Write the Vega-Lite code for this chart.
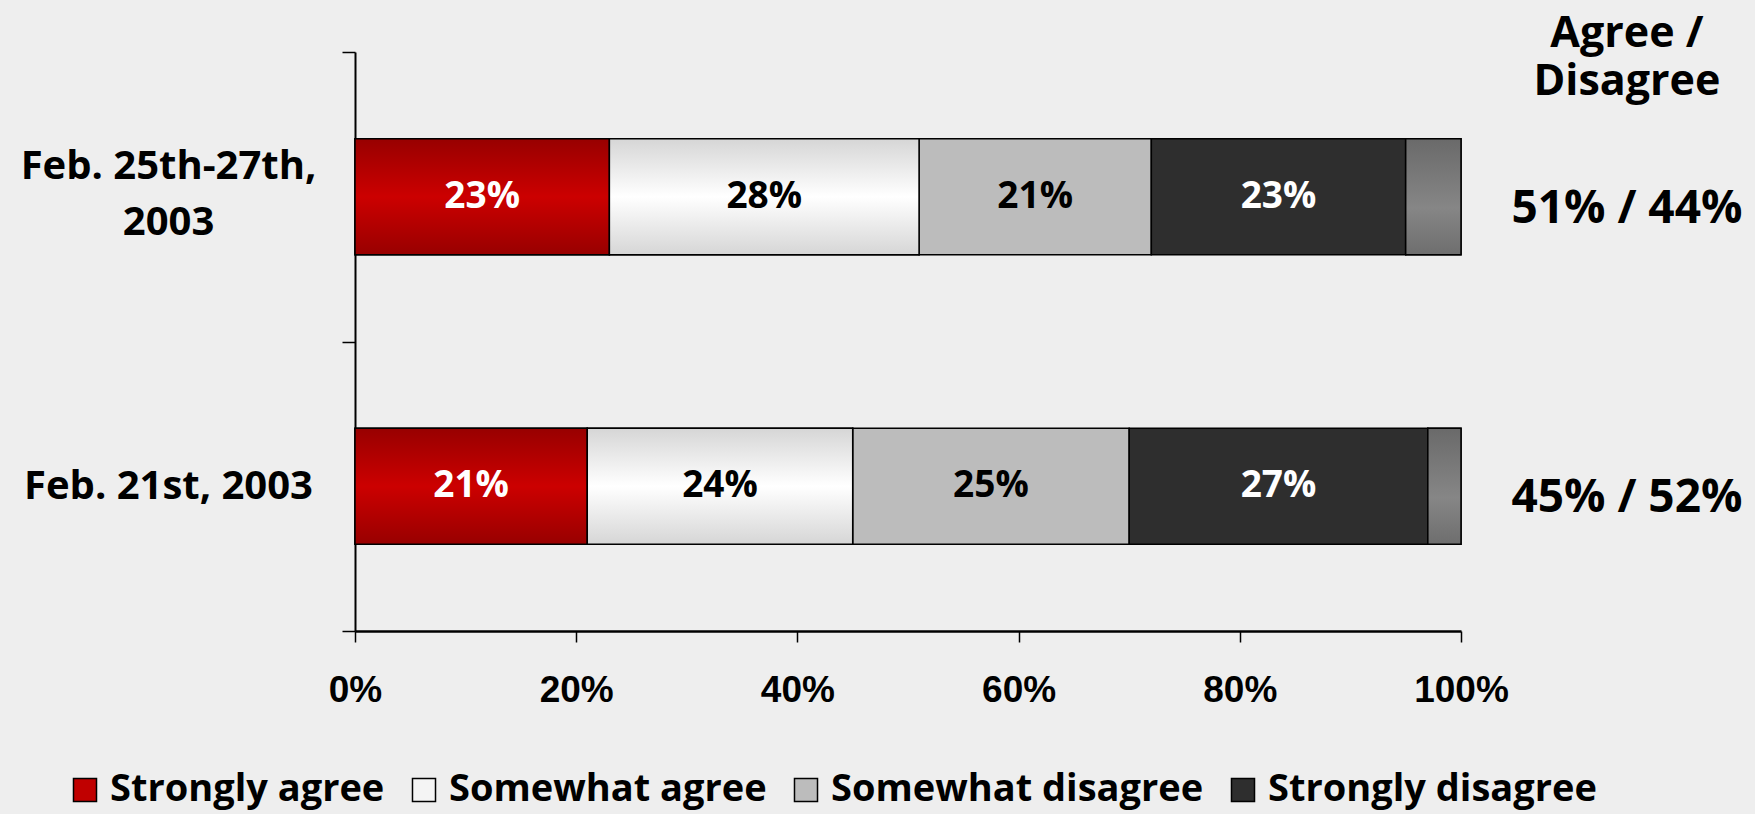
{
  "$schema": "https://vega.github.io/schema/vega-lite/v6.json",
  "width": 1106,
  "height": 579,
  "autosize": {"type": "none"},
  "padding": {"left": 355, "top": 52, "right": 294, "bottom": 183},
  "background": "#EEEEEE",
  "config": {"view": {"stroke": null}, "font": "Open Sans"},
  "datasets": {
    "responses": [
      {"period": "Feb. 25th-27th, 2003", "response": "Strongly agree", "value": 23},
      {"period": "Feb. 25th-27th, 2003", "response": "Somewhat agree", "value": 28},
      {"period": "Feb. 25th-27th, 2003", "response": "Somewhat disagree", "value": 21},
      {"period": "Feb. 25th-27th, 2003", "response": "Strongly disagree", "value": 23},
      {"period": "Feb. 25th-27th, 2003", "response": "Don't know", "value": 5},
      {"period": "Feb. 21st, 2003", "response": "Strongly agree", "value": 21},
      {"period": "Feb. 21st, 2003", "response": "Somewhat agree", "value": 24},
      {"period": "Feb. 21st, 2003", "response": "Somewhat disagree", "value": 25},
      {"period": "Feb. 21st, 2003", "response": "Strongly disagree", "value": 27},
      {"period": "Feb. 21st, 2003", "response": "Don't know", "value": 3}
    ],
    "totals": [
      {"period": "Feb. 25th-27th, 2003", "summary": "51% / 44%"},
      {"period": "Feb. 21st, 2003", "summary": "45% / 52%"}
    ],
    "header": [
      {"period": "Feb. 25th-27th, 2003", "text": "Agree /\nDisagree"}
    ]
  },
  "layer": [
    {
      "data": {"name": "responses"},
      "transform": [
        {"calculate": "indexof(['Strongly agree','Somewhat agree','Somewhat disagree','Strongly disagree','Don\\'t know'], datum.response)", "as": "rank"},
        {"stack": "value", "groupby": ["period"], "sort": [{"field": "rank", "order": "ascending"}], "as": ["x0", "x1"]},
        {"calculate": "(datum.x0 + datum.x1) / 2", "as": "mid"},
        {"calculate": "datum.value + '%'", "as": "label"}
      ],
      "layer": [
        {
          "mark": {"type": "bar", "stroke": "black", "strokeWidth": 1.5, "height": {"band": 0.4}},
          "encoding": {
            "y": {
              "field": "period", "type": "nominal",
              "sort": ["Feb. 25th-27th, 2003", "Feb. 21st, 2003"],
              "scale": {"paddingInner": 0, "paddingOuter": 0},
              "axis": {
                "title": null,
                "tickBand": "extent",
                "tickSize": 13,
                "tickColor": "black",
                "tickWidth": 1.5,
                "domainColor": "black",
                "domainWidth": 2,
                "labelAlign": "center",
                "labelBaseline": "middle",
                "labelPadding": 174,
                "labelFont": "Open Sans",
                "labelFontWeight": "bold",
                "labelFontSize": 40,
                "labelLineHeight": 56,
                "labelColor": "black",
                "labelLimit": 0,
                "labelOffset": {"condition": {"test": "datum.value == 'Feb. 25th-27th, 2003'", "value": -30}, "value": 0},
                "labelExpr": "datum.value == 'Feb. 25th-27th, 2003' ? ['Feb. 25th-27th,', '2003'] : datum.value"
              }
            },
            "x": {
              "field": "x0", "type": "quantitative",
              "scale": {"domain": [0, 100], "nice": false},
              "axis": {
                "title": null,
                "grid": false,
                "values": [0, 20, 40, 60, 80, 100],
                "labelExpr": "datum.value + '%'",
                "tickSize": 11,
                "tickColor": "black",
                "tickWidth": 1.5,
                "domainColor": "black",
                "domainWidth": 2.5,
                "labelFont": "Liberation Sans",
                "labelFontWeight": "bold",
                "labelFontSize": 37,
                "labelPadding": 30,
                "labelColor": "black",
                "labelFlush": false
              }
            },
            "x2": {"field": "x1"},
            "color": {
              "field": "response", "type": "nominal",
              "sort": ["Strongly agree", "Somewhat agree", "Somewhat disagree", "Strongly disagree", "Don't know"],
              "scale": {
                "domain": ["Strongly agree", "Somewhat agree", "Somewhat disagree", "Strongly disagree", "Don't know"],
                "range": ["#C00000", "#F4F4F4", "#BCBCBC", "#2E2E2E", "#7A7A7A"]
              },
              "legend": {
                "title": null,
                "orient": "none",
                "legendX": -289,
                "legendY": 719,
                "direction": "horizontal",
                "values": ["Strongly agree", "Somewhat agree", "Somewhat disagree", "Strongly disagree"],
                "symbolType": "square",
                "symbolSize": 530,
                "symbolStrokeColor": "black",
                "symbolStrokeWidth": 1.5,
                "symbolOpacity": 1,
                "labelFont": "Open Sans",
                "labelFontWeight": "bold",
                "labelFontSize": 38,
                "labelColor": "black",
                "labelOffset": 6,
                "columnPadding": 20,
                "labelLimit": 0
              }
            }
          }
        },
        {
          "transform": [{"filter": "datum.response === 'Strongly agree' || datum.response === 'Somewhat agree' || datum.response === \"Don't know\""}],
          "mark": {"type": "bar", "stroke": "black", "strokeWidth": 1.5, "height": {"band": 0.4}},
          "encoding": {
            "y": {"field": "period", "type": "nominal", "sort": ["Feb. 25th-27th, 2003", "Feb. 21st, 2003"]},
            "x": {"field": "x0", "type": "quantitative"},
            "x2": {"field": "x1"},
            "color": {
              "condition": [
                {"test": "datum.response === 'Strongly agree'", "value": {"gradient": "linear", "x1": 0, "y1": 0, "x2": 0, "y2": 1, "stops": [{"offset": 0, "color": "#980000"}, {"offset": 0.5, "color": "#CC0000"}, {"offset": 1, "color": "#980000"}]}},
                {"test": "datum.response === 'Somewhat agree'", "value": {"gradient": "linear", "x1": 0, "y1": 0, "x2": 0, "y2": 1, "stops": [{"offset": 0, "color": "#D6D6D6"}, {"offset": 0.5, "color": "#FFFFFF"}, {"offset": 1, "color": "#D6D6D6"}]}}
              ],
              "value": {"gradient": "linear", "x1": 0, "y1": 0, "x2": 0, "y2": 1, "stops": [{"offset": 0, "color": "#6A6A6A"}, {"offset": 0.6, "color": "#868686"}, {"offset": 1, "color": "#6E6E6E"}]}
            }
          }
        },
        {
          "transform": [{"filter": "datum.response !== \"Don't know\""}],
          "mark": {"type": "text", "font": "Open Sans", "fontWeight": "bold", "fontSize": 37, "baseline": "middle", "align": "center"},
          "encoding": {
            "y": {"field": "period", "type": "nominal", "sort": ["Feb. 25th-27th, 2003", "Feb. 21st, 2003"]},
            "x": {"field": "mid", "type": "quantitative"},
            "text": {"field": "label", "type": "nominal"},
            "color": {
              "condition": {"test": "datum.response === 'Strongly agree' || datum.response === 'Strongly disagree'", "value": "white"},
              "value": "black"
            }
          }
        }
      ]
    },
    {
      "data": {"name": "totals"},
      "mark": {"type": "text", "font": "Open Sans", "fontWeight": "bold", "fontSize": 46, "baseline": "middle", "align": "center", "dy": 12, "color": "black"},
      "encoding": {
        "y": {"field": "period", "type": "nominal", "sort": ["Feb. 25th-27th, 2003", "Feb. 21st, 2003"]},
        "x": {"datum": 115, "type": "quantitative"},
        "text": {"field": "summary", "type": "nominal"}
      }
    },
    {
      "data": {"name": "header"},
      "mark": {"type": "text", "font": "Open Sans", "fontWeight": "bold", "fontSize": 43, "baseline": "alphabetic", "align": "center", "dy": -150, "lineBreak": "\n", "lineHeight": 48, "color": "black"},
      "encoding": {
        "y": {"field": "period", "type": "nominal", "sort": ["Feb. 25th-27th, 2003", "Feb. 21st, 2003"]},
        "x": {"datum": 115, "type": "quantitative"},
        "text": {"field": "text", "type": "nominal"}
      }
    }
  ]
}
